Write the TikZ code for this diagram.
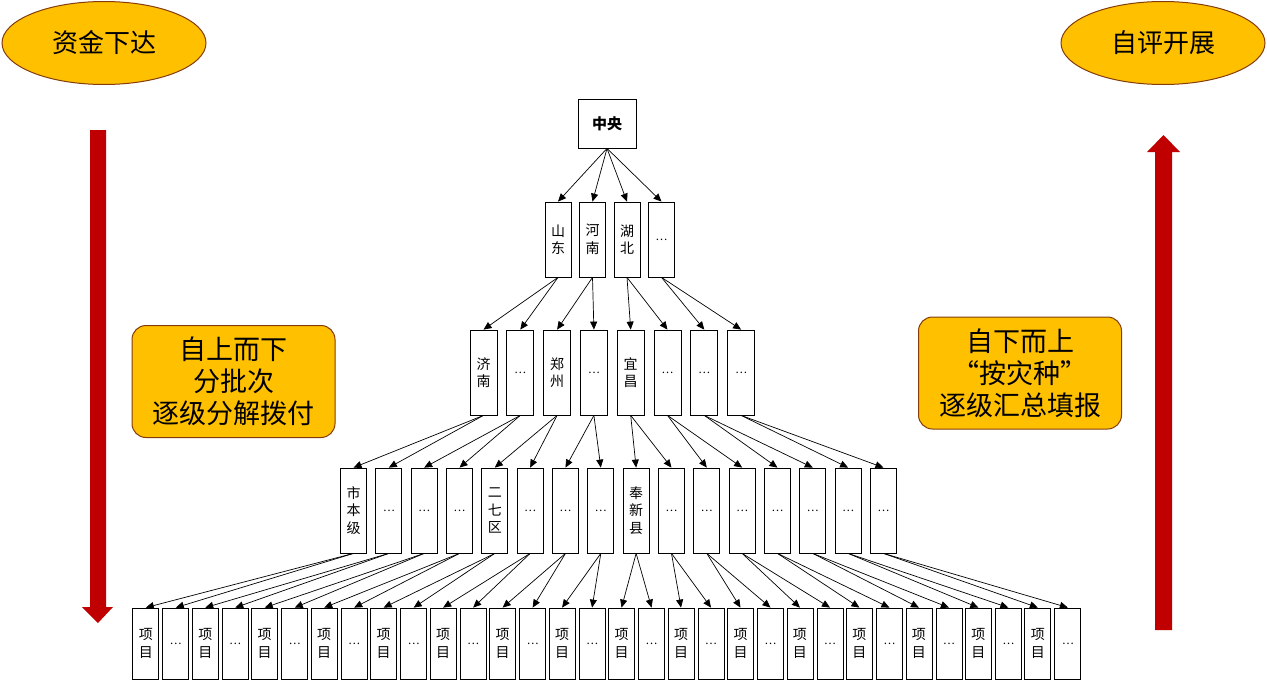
\documentclass[tikz,border=0pt]{standalone}
\usepackage{fontspec}
\setmainfont{Noto Sans CJK SC}
\usetikzlibrary{arrows.meta}
\usetikzlibrary{shapes.geometric}

\definecolor{gold}{HTML}{FFC000}
\definecolor{rim}{HTML}{843C0C}
\definecolor{bigred}{HTML}{C00000}
\newcommand{\more}{{\fontsize{11}{13}\selectfont …}}

\begin{document}
\begin{tikzpicture}[x=1pt, y=-1pt,
    box/.style={draw, line width=0.8pt, minimum width=26pt, inner sep=0pt, align=center, font=\fontsize{14}{17.5}\selectfont},
    link/.style={-{Triangle[length=8pt,width=7pt]}, line width=0.7pt},
    tag/.style={ellipse, draw=rim, fill=gold, line width=1pt, minimum width=204pt, minimum height=83pt, font=\fontsize{26}{30}\selectfont},
    note/.style={draw=rim, fill=gold, line width=1pt, rounded corners=14pt, minimum width=203pt, minimum height=112pt, align=center, font=\fontsize{27}{32}\selectfont}]
      \useasboundingbox (0, 0) rectangle (1267, 681);

      \node [tag] (down) at (104, 43) {资金下达};
      \node [tag] (up) at (1163, 43) {自评开展};
      \node [note] (topdown) at (233.5, 381.5) {自上而下\\分批次\\逐级分解拨付};
      \node [note] (bottomup) at (1020, 373) {自下而上\\“按灾种”\\逐级汇总填报};

      % big arrows
      \fill [bigred] (90, 130) -- (106, 130) -- (106, 607) -- (113, 607) -- (98, 623) -- (82, 607) -- (90, 607) -- cycle;
      \fill [bigred] (1155, 630) -- (1172, 630) -- (1172, 152) -- (1180, 152) -- (1163.5, 135) -- (1147, 152) -- (1155, 152) -- cycle;

      \node [box, minimum width=58pt, minimum height=49pt, font=\fontsize{15}{18}\selectfont\bfseries] (r) at (607, 123.5) {中央};

      \foreach \lbl [count=\k, evaluate=\k as \x using 558+34.5*(\k-1)] in {{山\\东},{河\\南},{湖\\北},{\more}}
        \node [box, minimum height=75pt] (a\k) at (\x, 239.5) {\lbl};

      \foreach \lbl [count=\j, evaluate=\j as \x using 483.5+36.8*(\j-1)] in {{济\\南},{\more},{郑\\州},{\more},{宜\\昌},{\more},{\more},{\more}}
        \node [box, minimum width=27pt, minimum height=85pt] (b\j) at (\x, 372.5) {\lbl};

      \foreach \lbl [count=\i, evaluate=\i as \x using 353.5+35.33*(\i-1)] in {{市\\本\\级},{\more},{\more},{\more},{二\\七\\区},{\more},{\more},{\more},{奉\\新\\县},{\more},{\more},{\more},{\more},{\more},{\more},{\more}}
        \node [box, minimum height=85pt] (c\i) at (\x, 510.5) {\lbl};

      \foreach \m [evaluate=\m as \x using 145.8+59.47*(\m-1), evaluate=\m as \na using int(2*\m-1), evaluate=\m as \nb using int(2*\m)] in {1,...,16} {
        \node [box, minimum height=71pt] (d\na) at (\x, 643.5) {项\\目};
        \node [box, minimum height=71pt] (d\nb) at (\x+30, 643.5) {\more};
      }

      % links
      \foreach \k in {1,...,4}
        \draw [link] (r.south) -- (a\k.north);
      \foreach \k [evaluate=\k as \p using int(2*\k-1), evaluate=\k as \q using int(2*\k)] in {1,...,4} {
        \draw [link] (a\k.south) -- (b\p.north);
        \draw [link] (a\k.south) -- (b\q.north);
      }
      \foreach \j [evaluate=\j as \p using int(2*\j-1), evaluate=\j as \q using int(2*\j)] in {1,...,8} {
        \draw [link] (b\j.south) -- (c\p.north);
        \draw [link] (b\j.south) -- (c\q.north);
      }
      \foreach \i [evaluate=\i as \p using int(2*\i-1), evaluate=\i as \q using int(2*\i)] in {1,...,16} {
        \draw [link] (c\i.south) -- (d\p.north);
        \draw [link] (c\i.south) -- (d\q.north);
      }

    \end{tikzpicture}
\end{document}
